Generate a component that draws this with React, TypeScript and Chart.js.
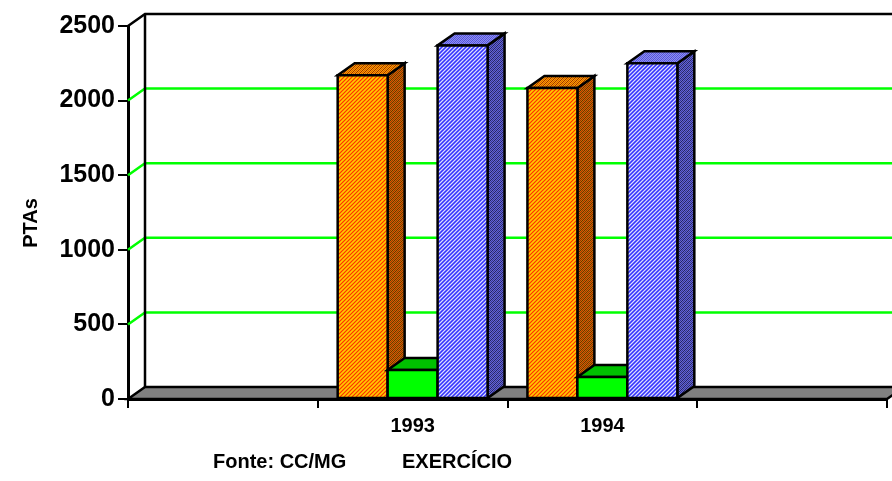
import React, { useEffect, useRef } from 'react';
import { Chart, registerables } from 'chart.js';

Chart.register(...registerables);

const categories = ['', '1993', '1994', ''];
const seriesOrange = [null, 2170, 2085, null];
const seriesGreen = [null, 195, 148, null];
const seriesBlue = [null, 2370, 2250, null];
const yTickValues = [0, 500, 1000, 1500, 2000, 2500];
const yAxisTitle = 'PTAs';
const sourceText = 'Fonte: CC/MG';
const xAxisTitle = 'EXERCÍCIO';

const DX = 17;
const DY = -12;
const FONT = '"Liberation Sans", Arial, sans-serif';

function makePattern(colors: string[]): CanvasPattern | string {
  const c = document.createElement('canvas');
  c.width = 4;
  c.height = 4;
  const g = c.getContext('2d');
  if (!g) return colors[0];
  for (let x = 0; x < 4; x++) {
    for (let y = 0; y < 4; y++) {
      g.fillStyle = colors[(x + y) % colors.length];
      g.fillRect(x, y, 1, 1);
    }
  }
  const p = g.createPattern(c, 'repeat');
  return p || colors[0];
}

export default function App() {
  const ref = useRef<HTMLCanvasElement | null>(null);

  useEffect(() => {
    document.body.style.margin = '0';
    const canvas = ref.current;
    if (!canvas) return;

    const styles = [
      {
        front: makePattern(['#FF3300', '#FF9900', '#FFCC00', '#FF9900']),
        side: makePattern(['#993300', '#CC6600', '#663300', '#CC6600']),
        top: makePattern(['#993300', '#FF9900', '#CC6600', '#FF9900']),
      },
      {
        front: '#00FF00',
        side: '#00A000',
        top: '#00C000',
      },
      {
        front: makePattern(['#3333FF', '#7777FF', '#DDDDFF', '#7777FF']),
        side: makePattern(['#333399', '#6666CC', '#222266', '#6666CC']),
        top: makePattern(['#5555CC', '#8888FF', '#6666CC', '#8888FF']),
      },
    ];

    const plugin3d = {
      id: 'plugin3d',
      beforeDatasetsDraw(chart: any) {
        const ctx = chart.ctx as CanvasRenderingContext2D;
        const a = chart.chartArea;
        const ys = chart.scales.y;
        const W = chart.width;
        const y0 = ys.getPixelForValue(0);
        const yTop = ys.getPixelForValue(2500);
        ctx.save();
        ctx.lineWidth = 2.5;
        ctx.strokeStyle = '#00FF00';
        for (const v of yTickValues) {
          if (v === 0 || v === 2500) continue;
          const py = ys.getPixelForValue(v);
          ctx.beginPath();
          ctx.moveTo(a.left, py);
          ctx.lineTo(a.left + DX, py + DY);
          ctx.lineTo(W, py + DY);
          ctx.stroke();
        }
        ctx.strokeStyle = '#000000';
        ctx.lineWidth = 2.5;
        ctx.beginPath();
        ctx.moveTo(a.left, yTop);
        ctx.lineTo(a.left + DX, yTop + DY);
        ctx.lineTo(W, yTop + DY);
        ctx.stroke();
        ctx.beginPath();
        ctx.moveTo(a.left + DX, yTop + DY);
        ctx.lineTo(a.left + DX, y0 + DY);
        ctx.stroke();
        ctx.fillStyle = '#808080';
        ctx.beginPath();
        ctx.moveTo(a.left, y0);
        ctx.lineTo(a.left + DX, y0 + DY);
        ctx.lineTo(a.right + DX, y0 + DY);
        ctx.lineTo(a.right, y0);
        ctx.closePath();
        ctx.fill();
        ctx.lineWidth = 2.5;
        ctx.stroke();
        ctx.restore();
      },
      afterDatasetsDraw(chart: any) {
        const ctx = chart.ctx as CanvasRenderingContext2D;
        const n = chart.data.labels.length;
        ctx.save();
        ctx.lineWidth = 2.5;
        ctx.strokeStyle = '#000000';
        ctx.lineJoin = 'miter';
        for (let j = 0; j < n; j++) {
          for (let i = 0; i < chart.data.datasets.length; i++) {
            const v = chart.data.datasets[i].data[j];
            if (v === null || v === undefined) continue;
            const el: any = chart.getDatasetMeta(i).data[j];
            const x0 = el.x - el.width / 2;
            const x1 = el.x + el.width / 2;
            const top = el.y;
            const bot = el.base;
            const st = styles[i];
            ctx.fillStyle = st.side as any;
            ctx.beginPath();
            ctx.moveTo(x1, top);
            ctx.lineTo(x1 + DX, top + DY);
            ctx.lineTo(x1 + DX, bot + DY);
            ctx.lineTo(x1, bot);
            ctx.closePath();
            ctx.fill();
            ctx.stroke();
            ctx.fillStyle = st.top as any;
            ctx.beginPath();
            ctx.moveTo(x0, top);
            ctx.lineTo(x0 + DX, top + DY);
            ctx.lineTo(x1 + DX, top + DY);
            ctx.lineTo(x1, top);
            ctx.closePath();
            ctx.fill();
            ctx.stroke();
            ctx.fillStyle = st.front as any;
            ctx.beginPath();
            ctx.rect(x0, top, x1 - x0, bot - top);
            ctx.fill();
            ctx.stroke();
          }
        }
        ctx.restore();
      },
      afterDraw(chart: any) {
        const ctx = chart.ctx as CanvasRenderingContext2D;
        ctx.save();
        ctx.fillStyle = '#000000';
        ctx.font = `bold 20px ${FONT}`;
        ctx.translate(37, 223);
        ctx.rotate(-Math.PI / 2);
        ctx.textAlign = 'center';
        ctx.textBaseline = 'alphabetic';
        ctx.fillText(yAxisTitle, 0, 0);
        ctx.restore();

        ctx.save();
        ctx.fillStyle = '#000000';
        ctx.font = `bold 20px ${FONT}`;
        ctx.textAlign = 'left';
        ctx.textBaseline = 'alphabetic';
        ctx.fillText(sourceText, 213, 468);
        ctx.fillText(xAxisTitle, 402, 468);
        ctx.restore();
      },
    };

    const chart = new Chart(canvas, {
      type: 'bar',
      data: {
        labels: categories,
        datasets: [
          { label: 'A', data: seriesOrange, backgroundColor: 'transparent', borderWidth: 0 },
          { label: 'B', data: seriesGreen, backgroundColor: 'transparent', borderWidth: 0 },
          { label: 'C', data: seriesBlue, backgroundColor: 'transparent', borderWidth: 0 },
        ],
      },
      options: {
        responsive: false,
        animation: false,
        devicePixelRatio: 1,
        layout: { padding: { left: 0, right: 5, top: 26, bottom: 0 } },
        datasets: {
          bar: { categoryPercentage: 0.79, barPercentage: 1 },
        },
        plugins: {
          legend: { display: false },
          tooltip: { enabled: false },
          title: { display: false },
        },
        scales: {
          x: {
            type: 'category',
            offset: true,
            grid: {
              offset: true,
              drawOnChartArea: false,
              drawTicks: true,
              tickLength: 9,
              color: '#000000',
              lineWidth: 2,
            },
            border: { display: true, color: '#000000', width: 3 },
            ticks: {
              color: '#000000',
              font: { family: FONT, size: 20, weight: 'bold' },
              padding: 6,
              maxRotation: 0,
              autoSkip: false,
            },
            afterFit(scale: any) {
              scale.height = 82;
            },
          },
          y: {
            type: 'linear',
            min: 0,
            max: 2500,
            afterBuildTicks(scale: any) {
              scale.ticks = yTickValues.map((v) => ({ value: v }));
            },
            grid: {
              drawOnChartArea: false,
              drawTicks: true,
              tickLength: 10,
              color: '#000000',
              lineWidth: 2,
            },
            border: { display: true, color: '#000000', width: 3 },
            ticks: {
              color: '#000000',
              font: { family: FONT, size: 25, weight: 'bold' },
              padding: 3,
              callback: (value: any) => String(value),
            },
            afterFit(scale: any) {
              scale.width = 128;
            },
          },
        },
      },
      plugins: [plugin3d],
    });

    return () => {
      chart.destroy();
    };
  }, []);

  return (
    <div style={{ width: 892, height: 481, background: '#ffffff' }}>
      <canvas ref={ref} width={892} height={481} style={{ display: 'block' }} />
    </div>
  );
}
